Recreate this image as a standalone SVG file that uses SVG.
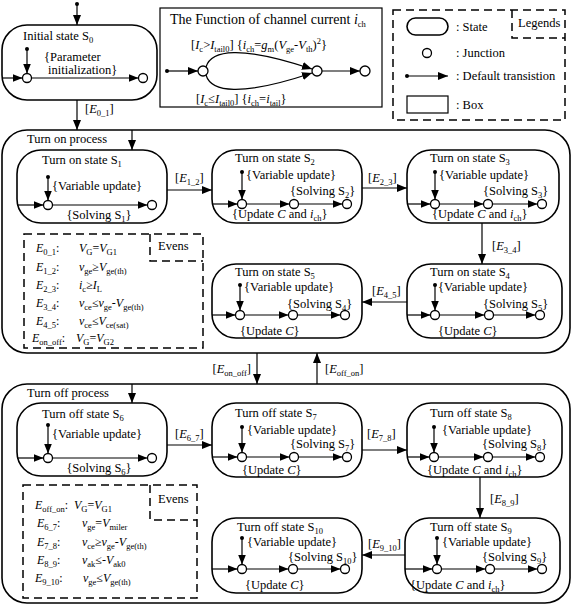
<svg xmlns="http://www.w3.org/2000/svg" width="573" height="606" viewBox="0 0 573 606">
<style>
text{font-family:"Liberation Serif","Times New Roman",serif;font-size:12.5px;fill:#000}
.t14{font-size:14px}
.ev{font-size:12px}
.i{font-style:italic}
.sb{font-size:8.5px;baseline-shift:-3px;font-style:normal}
.sp{font-size:8.5px;baseline-shift:5px}
.st{fill:none;stroke:#000;stroke-width:1.6}
.pr{fill:none;stroke:#000;stroke-width:1.6}
.bx{fill:none;stroke:#000;stroke-width:1.2}
.da{fill:none;stroke:#000;stroke-width:1.5;stroke-dasharray:8,5}
.ln{fill:none;stroke:#000;stroke-width:1.2}
.ar{fill:none;stroke:#000;stroke-width:1.2;marker-end:url(#ah)}
.j{fill:#fff;stroke:#000;stroke-width:1.3}
.d{fill:#000}
</style>
<defs>
<marker id="ah" viewBox="0 0 10 8" refX="10" refY="4" markerWidth="10" markerHeight="8" markerUnits="userSpaceOnUse" orient="auto"><path d="M0,0 L10,4 L0,8 z" fill="#000"/></marker>
</defs>

<!-- Initial state S0 -->
<g id="s0">
<rect class="st" x="2" y="25" width="155" height="75" rx="25"/>
<text x="23" y="40">Initial state S<tspan class="sb">0</tspan></text>
<circle class="d" cx="27" cy="49" r="2"/>
<path class="ar" d="M27,49 V73.5"/>
<text x="44" y="61">{Parameter</text>
<text x="48" y="74">initialization}</text>
<path class="ar" d="M2,78 H22.5"/>
<circle class="j" cx="27" cy="78" r="4.5"/>
<path class="ar" d="M31.5,78 H138.5"/>
<circle class="j" cx="143" cy="78" r="4.5"/>
</g>

<!-- Function box -->
<g id="func">
<rect class="bx" x="160" y="8" width="222" height="99"/>
<text class="t14" x="170" y="24">The Function of channel current <tspan class="i">i</tspan><tspan class="sb">ch</tspan></text>
<text x="191" y="49">[<tspan class="i">I</tspan><tspan class="sb">c</tspan>&gt;<tspan class="i">I</tspan><tspan class="sb">tail0</tspan>]  {<tspan class="i">i</tspan><tspan class="sb">ch</tspan>=<tspan class="i">g</tspan><tspan class="sb">m</tspan>(<tspan class="i">V</tspan><tspan class="sb">ge</tspan>-<tspan class="i">V</tspan><tspan class="sb">th</tspan>)<tspan class="sp">2</tspan>}</text>
<circle class="d" cx="167" cy="71" r="2"/>
<path class="ar" d="M167,71 H198"/>
<circle class="j" cx="203" cy="71" r="5"/>
<path class="ar" d="M206,67 C211,50 240,45 312,69"/>
<path class="ar" d="M206,75 C211,92 240,97 312,73"/>
<circle class="j" cx="317" cy="71" r="5"/>
<path class="ar" d="M322,71 H360"/>
<circle class="j" cx="365" cy="71" r="5"/>
<text x="196" y="103">[<tspan class="i">I</tspan><tspan class="sb">c</tspan>≤<tspan class="i">I</tspan><tspan class="sb">tail0</tspan>]  {<tspan class="i">i</tspan><tspan class="sb">ch</tspan>=<tspan class="i">i</tspan><tspan class="sb">tail</tspan>}</text>
</g>

<!-- Legends -->
<g id="legends">
<rect class="da" x="393" y="10" width="172" height="110"/>
<path class="da" d="M512,10 V38 H565"/>
<text x="518" y="27">Legends</text>
<rect class="st" x="407" y="18" width="41" height="17" rx="8.5"/>
<text x="456" y="31">:  State</text>
<circle class="j" cx="427" cy="53" r="4.5"/>
<text x="456" y="57">:  Junction</text>
<circle class="d" cx="407" cy="76" r="2"/>
<path class="ar" d="M407,76 H448"/>
<text x="456" y="80">:  Default transistion</text>
<rect class="bx" x="407" y="96" width="41" height="17"/>
<text x="456" y="109">:  Box</text>
</g>

<!-- Turn on process -->
<g id="turn-on">
<rect class="pr" x="2" y="130" width="568" height="223" rx="25"/>
<text x="27" y="143">Turn on process</text>
</g>

<g id="s1">
<rect class="st" x="17" y="150" width="150" height="73" rx="24"/>
<text x="42" y="164">Turn on state S<tspan class="sb">1</tspan></text>
<circle class="d" cx="48" cy="177" r="2"/>
<path class="ar" d="M48,177 V200.5"/>
<text x="52" y="190">{Variable update}</text>
<path class="ar" d="M17,205 H43.5"/>
<circle class="j" cx="48" cy="205" r="4.5"/>
<path class="ar" d="M52.5,205 H147.5"/>
<circle class="j" cx="152" cy="205" r="4.5"/>
<text x="99" y="219" text-anchor="middle">{Solving S<tspan class="sb">1</tspan>}</text>
</g>

<g id="s2">
<rect class="st" x="212" y="150" width="150" height="73" rx="24"/>
<text x="235" y="162">Turn on state S<tspan class="sb">2</tspan></text>
<circle class="d" cx="242" cy="172" r="2"/>
<path class="ar" d="M242,172 V199.5"/>
<text x="246" y="179">{Variable update}</text>
<text x="290" y="195">{Solving S<tspan class="sb">2</tspan>}</text>
<path class="ar" d="M212,204 H237.5"/>
<circle class="j" cx="242" cy="204" r="4.5"/>
<path class="ar" d="M246.5,204 H289.5"/>
<circle class="j" cx="294" cy="204" r="4.5"/>
<path class="ar" d="M298.5,204 H342.5"/>
<circle class="j" cx="347" cy="204" r="4.5"/>
<text x="232" y="218">{Update <tspan class="i">C</tspan> and <tspan class="i">i</tspan><tspan class="sb">ch</tspan>}</text>
</g>

<g id="s3">
<rect class="st" x="407" y="150" width="152" height="73" rx="24"/>
<text x="430" y="162">Turn on state S<tspan class="sb">3</tspan></text>
<circle class="d" cx="435" cy="172" r="2"/>
<path class="ar" d="M435,172 V199.5"/>
<text x="439" y="179">{Variable update}</text>
<text x="483" y="195">{Solving S<tspan class="sb">3</tspan>}</text>
<path class="ar" d="M407,204 H430.5"/>
<circle class="j" cx="435" cy="204" r="4.5"/>
<path class="ar" d="M439.5,204 H483.5"/>
<circle class="j" cx="488" cy="204" r="4.5"/>
<path class="ar" d="M492.5,204 H537.5"/>
<circle class="j" cx="542" cy="204" r="4.5"/>
<text x="432" y="218">{Update <tspan class="i">C</tspan> and <tspan class="i">i</tspan><tspan class="sb">ch</tspan>}</text>
</g>

<g id="s4">
<rect class="st" x="407" y="264" width="155" height="74" rx="24"/>
<text x="430" y="276">Turn on state S<tspan class="sb">4</tspan></text>
<circle class="d" cx="435" cy="285" r="2"/>
<path class="ar" d="M435,285 V310.5"/>
<text x="438" y="291">{Variable update}</text>
<text x="483" y="308">{Solving S<tspan class="sb">5</tspan>}</text>
<path class="ar" d="M407,315 H430.5"/>
<circle class="j" cx="435" cy="315" r="4.5"/>
<path class="ar" d="M439.5,315 H484.5"/>
<circle class="j" cx="489" cy="315" r="4.5"/>
<path class="ar" d="M493.5,315 H535.5"/>
<circle class="j" cx="540" cy="315" r="4.5"/>
<text x="438" y="335">{Update <tspan class="i">C</tspan>}</text>
</g>

<g id="s5">
<rect class="st" x="212" y="264" width="150" height="74" rx="24"/>
<text x="235" y="276">Turn on state S<tspan class="sb">5</tspan></text>
<circle class="d" cx="240" cy="285" r="2"/>
<path class="ar" d="M240,285 V310.5"/>
<text x="244" y="291">{Variable update}</text>
<text x="287" y="308">{Solving S<tspan class="sb">4</tspan>}</text>
<path class="ar" d="M212,315 H235.5"/>
<circle class="j" cx="240" cy="315" r="4.5"/>
<path class="ar" d="M244.5,315 H288.5"/>
<circle class="j" cx="293" cy="315" r="4.5"/>
<path class="ar" d="M297.5,315 H340.5"/>
<circle class="j" cx="345" cy="315" r="4.5"/>
<text x="240" y="335">{Update <tspan class="i">C</tspan>}</text>
</g>

<g id="evens-on">
<rect class="da" x="24" y="234" width="179" height="114"/>
<path class="da" d="M150,234 V261 H203"/>
<text x="158" y="250">Evens</text>
<text class="ev" x="36" y="252"><tspan class="i">E</tspan><tspan class="sb">0_1</tspan>:</text>
<text class="ev" x="79" y="252"><tspan class="i">V</tspan><tspan class="sb">G</tspan>=<tspan class="i">V</tspan><tspan class="sb">G1</tspan></text>
<text class="ev" x="36" y="271"><tspan class="i">E</tspan><tspan class="sb">1_2</tspan>:</text>
<text class="ev" x="79" y="271"><tspan class="i">v</tspan><tspan class="sb">ge</tspan>≥<tspan class="i">V</tspan><tspan class="sb">ge(th)</tspan></text>
<text class="ev" x="36" y="289"><tspan class="i">E</tspan><tspan class="sb">2_3</tspan>:</text>
<text class="ev" x="79" y="289"><tspan class="i">i</tspan><tspan class="sb">c</tspan>≥<tspan class="i">I</tspan><tspan class="sb">L</tspan></text>
<text class="ev" x="36" y="307"><tspan class="i">E</tspan><tspan class="sb">3_4</tspan>:</text>
<text class="ev" x="79" y="307"><tspan class="i">v</tspan><tspan class="sb">ce</tspan>≤<tspan class="i">v</tspan><tspan class="sb">ge</tspan>-<tspan class="i">V</tspan><tspan class="sb">ge(th)</tspan></text>
<text class="ev" x="36" y="325"><tspan class="i">E</tspan><tspan class="sb">4_5</tspan>:</text>
<text class="ev" x="79" y="325"><tspan class="i">v</tspan><tspan class="sb">ce</tspan>≤<tspan class="i">V</tspan><tspan class="sb">ce(sat)</tspan></text>
<text class="ev" x="32" y="342"><tspan class="i">E</tspan><tspan class="sb">on_off</tspan>:</text>
<text class="ev" x="76" y="342"><tspan class="i">V</tspan><tspan class="sb">G</tspan>=<tspan class="i">V</tspan><tspan class="sb">G2</tspan></text>
</g>

<!-- Turn off process -->
<g id="turn-off">
<rect class="pr" x="2" y="384" width="568" height="219" rx="25"/>
<text x="27" y="397">Turn off process</text>
</g>

<g id="s6">
<rect class="st" x="17" y="403" width="150" height="73" rx="24"/>
<text x="42" y="418">Turn off state S<tspan class="sb">6</tspan></text>
<circle class="d" cx="48" cy="425" r="2"/>
<path class="ar" d="M48,425 V453.5"/>
<text x="52" y="438">{Variable update}</text>
<path class="ar" d="M17,458 H43.5"/>
<circle class="j" cx="48" cy="458" r="4.5"/>
<path class="ar" d="M52.5,458 H147.5"/>
<circle class="j" cx="152" cy="458" r="4.5"/>
<text x="99" y="472" text-anchor="middle">{Solving S<tspan class="sb">6</tspan>}</text>
</g>

<g id="s7">
<rect class="st" x="212" y="403" width="150" height="74" rx="24"/>
<text x="235" y="417">Turn off state S<tspan class="sb">7</tspan></text>
<circle class="d" cx="242" cy="427" r="2"/>
<path class="ar" d="M242,427 V452.5"/>
<text x="247" y="434">{Variable update}</text>
<text x="290" y="448">{Solving S<tspan class="sb">7</tspan>}</text>
<path class="ar" d="M212,457 H237.5"/>
<circle class="j" cx="242" cy="457" r="4.5"/>
<path class="ar" d="M246.5,457 H289.5"/>
<circle class="j" cx="294" cy="457" r="4.5"/>
<path class="ar" d="M298.5,457 H342.5"/>
<circle class="j" cx="347" cy="457" r="4.5"/>
<text x="242" y="474">{Update <tspan class="i">C</tspan>}</text>
</g>

<g id="s8">
<rect class="st" x="407" y="403" width="155" height="74" rx="24"/>
<text x="430" y="417">Turn off state S<tspan class="sb">8</tspan></text>
<circle class="d" cx="434" cy="427" r="2"/>
<path class="ar" d="M434,427 V452.5"/>
<text x="442" y="434">{Variable update}</text>
<text x="482" y="448">{Solving S<tspan class="sb">8</tspan>}</text>
<path class="ar" d="M407,457 H429.5"/>
<circle class="j" cx="434" cy="457" r="4.5"/>
<path class="ar" d="M438.5,457 H483.5"/>
<circle class="j" cx="488" cy="457" r="4.5"/>
<path class="ar" d="M492.5,457 H535.5"/>
<circle class="j" cx="540" cy="457" r="4.5"/>
<text x="427" y="474">{Update <tspan class="i">C</tspan> and <tspan class="i">i</tspan><tspan class="sb">ch</tspan>}</text>
</g>

<g id="s9">
<rect class="st" x="405" y="518" width="155" height="75" rx="24"/>
<text x="430" y="531">Turn off state S<tspan class="sb">9</tspan></text>
<circle class="d" cx="437" cy="538" r="2"/>
<path class="ar" d="M437,538 V564.5"/>
<text x="442" y="546">{Variable update}</text>
<text x="482" y="561">{Solving S<tspan class="sb">9</tspan>}</text>
<path class="ar" d="M405,569 H432.5"/>
<circle class="j" cx="437" cy="569" r="4.5"/>
<path class="ar" d="M441.5,569 H485.5"/>
<circle class="j" cx="490" cy="569" r="4.5"/>
<path class="ar" d="M494.5,569 H537.5"/>
<circle class="j" cx="542" cy="569" r="4.5"/>
<text x="410" y="589">{Update <tspan class="i">C</tspan> and <tspan class="i">i</tspan><tspan class="sb">ch</tspan>}</text>
</g>

<g id="s10">
<rect class="st" x="212" y="518" width="150" height="75" rx="24"/>
<text x="237" y="531">Turn off state S<tspan class="sb">10</tspan></text>
<circle class="d" cx="242" cy="538" r="2"/>
<path class="ar" d="M242,538 V564.5"/>
<text x="247" y="546">{Variable update}</text>
<text x="288" y="561">{Solving S<tspan class="sb">10</tspan>}</text>
<path class="ar" d="M212,569 H237.5"/>
<circle class="j" cx="242" cy="569" r="4.5"/>
<path class="ar" d="M246.5,569 H288.5"/>
<circle class="j" cx="293" cy="569" r="4.5"/>
<path class="ar" d="M297.5,569 H340.5"/>
<circle class="j" cx="345" cy="569" r="4.5"/>
<text x="245" y="589">{Update <tspan class="i">C</tspan>}</text>
</g>

<g id="evens-off">
<rect class="da" x="23" y="485" width="174" height="113"/>
<path class="da" d="M150,485 V520 H197"/>
<text x="158" y="503">Evens</text>
<text class="ev" x="35" y="509"><tspan class="i">E</tspan><tspan class="sb">off_on</tspan>:</text>
<text class="ev" x="74" y="509"><tspan class="i">V</tspan><tspan class="sb">G</tspan>=<tspan class="i">V</tspan><tspan class="sb">G1</tspan></text>
<text class="ev" x="37" y="527"><tspan class="i">E</tspan><tspan class="sb">6_7</tspan>:</text>
<text class="ev" x="82" y="527"><tspan class="i">v</tspan><tspan class="sb">ge</tspan>=<tspan class="i">V</tspan><tspan class="sb">miler</tspan></text>
<text class="ev" x="37" y="546"><tspan class="i">E</tspan><tspan class="sb">7_8</tspan>:</text>
<text class="ev" x="82" y="546"><tspan class="i">v</tspan><tspan class="sb">ce</tspan>≥<tspan class="i">v</tspan><tspan class="sb">ge</tspan>-<tspan class="i">V</tspan><tspan class="sb">ge(th)</tspan></text>
<text class="ev" x="37" y="564"><tspan class="i">E</tspan><tspan class="sb">8_9</tspan>:</text>
<text class="ev" x="82" y="564"><tspan class="i">v</tspan><tspan class="sb">ak</tspan>≤-<tspan class="i">V</tspan><tspan class="sb">ak0</tspan></text>
<text class="ev" x="35" y="582"><tspan class="i">E</tspan><tspan class="sb">9_10</tspan>:</text>
<text class="ev" x="83" y="582"><tspan class="i">v</tspan><tspan class="sb">ge</tspan>≤<tspan class="i">V</tspan><tspan class="sb">ge(th)</tspan></text>
</g>

<!-- Connectors -->
<g id="connectors">
<circle class="d" cx="77" cy="4" r="2"/>
<path class="ar" d="M77,4 V25"/>
<path class="ar" d="M77,100 V130"/>
<text x="85" y="113">[<tspan class="i">E</tspan><tspan class="sb">0_1</tspan>]</text>
<path class="ar" d="M132,130 V150"/>
<path class="ar" d="M167,190 H212"/>
<text x="175" y="182">[<tspan class="i">E</tspan><tspan class="sb">1_2</tspan>]</text>
<path class="ar" d="M362,188 H407"/>
<text x="368" y="182">[<tspan class="i">E</tspan><tspan class="sb">2_3</tspan>]</text>
<path class="ar" d="M482,223 V264"/>
<text x="492" y="250">[<tspan class="i">E</tspan><tspan class="sb">3_4</tspan>]</text>
<path class="ar" d="M407,302 H362"/>
<text x="372" y="295">[<tspan class="i">E</tspan><tspan class="sb">4_5</tspan>]</text>
<path class="ar" d="M257,353 V384"/>
<text x="251" y="373" text-anchor="end">[<tspan class="i">E</tspan><tspan class="sb">on_off</tspan>]</text>
<path class="ar" d="M317,384 V353"/>
<text x="325" y="373">[<tspan class="i">E</tspan><tspan class="sb">off_on</tspan>]</text>
<path class="ar" d="M132,384 V403"/>
<path class="ar" d="M167,445 H212"/>
<text x="175" y="438">[<tspan class="i">E</tspan><tspan class="sb">6_7</tspan>]</text>
<path class="ar" d="M362,450 H407"/>
<text x="367" y="438">[<tspan class="i">E</tspan><tspan class="sb">7_8</tspan>]</text>
<path class="ar" d="M480,477 V518"/>
<text x="490" y="503">[<tspan class="i">E</tspan><tspan class="sb">8_9</tspan>]</text>
<path class="ar" d="M405,555 H362"/>
<text x="368" y="548">[<tspan class="i">E</tspan><tspan class="sb">9_10</tspan>]</text>
</g>
</svg>
